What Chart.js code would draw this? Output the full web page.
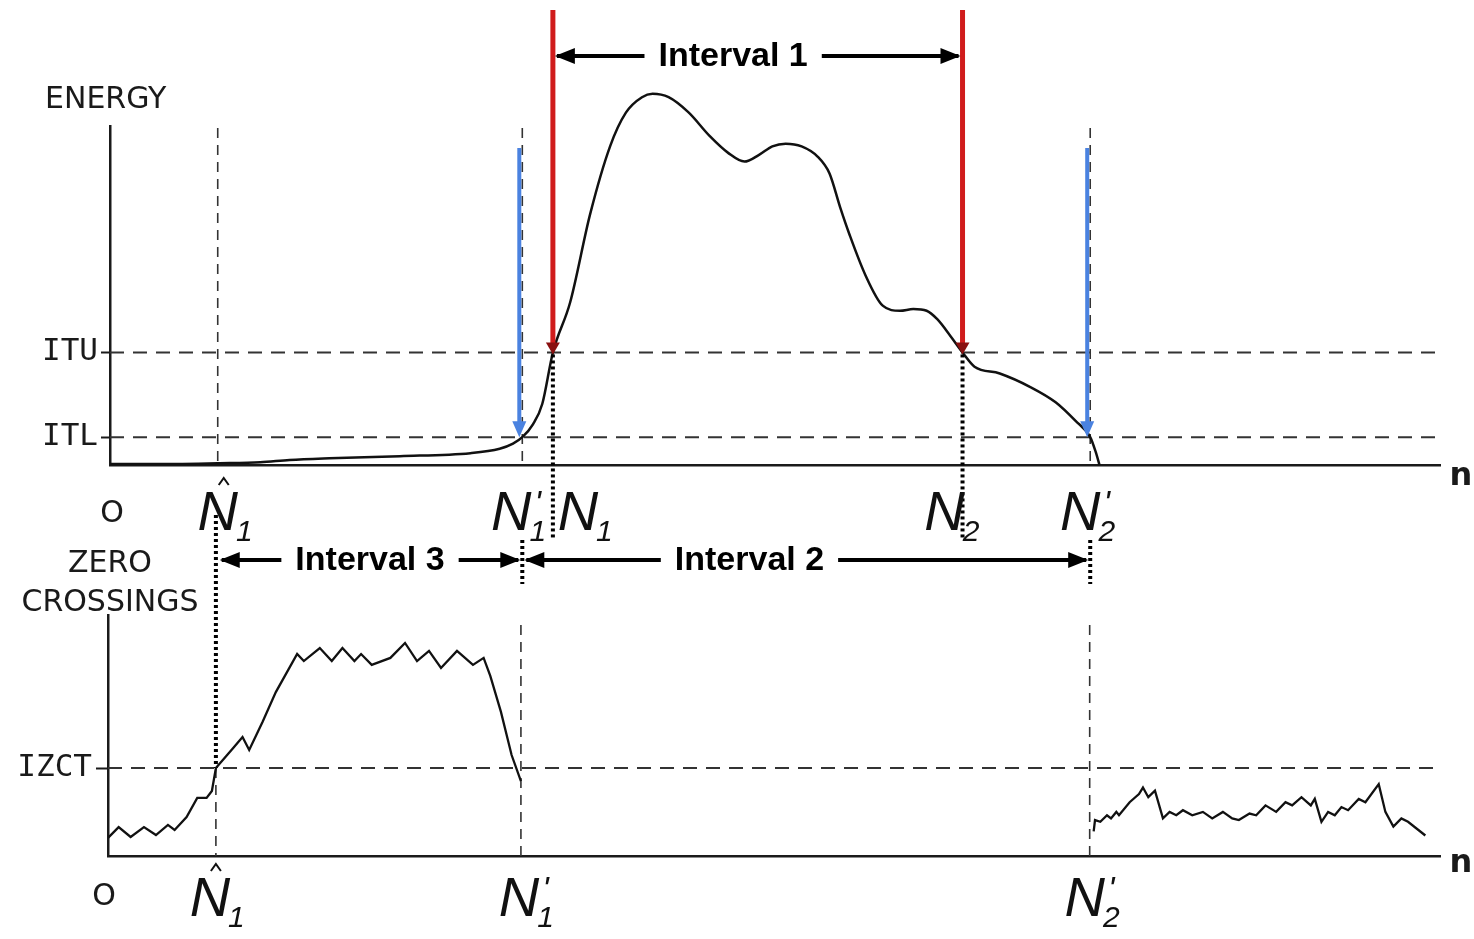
<!DOCTYPE html>
<html>
<head>
<meta charset="utf-8">
<script src="https://cdn.jsdelivr.net/npm/chart.js@4.4.0/dist/chart.umd.min.js"></script>
<style>
html, body { margin: 0; padding: 0; background: #fff; }
#wrap { position: relative; width: 1474px; height: 939px; overflow: hidden; }
#wrap canvas { position: absolute; left: 0; top: 0; }
</style>
</head>
<body>
<div id="wrap">
  <canvas id="zc" width="1474" height="939"></canvas>
  <canvas id="energy" width="1474" height="939"></canvas>
</div>
<script>
// frame index n (0..100) and energy
const energyN = [0, 5, 8.1, 11.3, 13.5, 16.5, 21.8, 27.1, 29.3, 30.3, 31.0, 31.8, 32.5, 33.3, 34.6, 36.1, 37.6, 38.8, 40.0, 40.8,
  42.0, 43.5, 45.1, 46.5, 47.7, 48.8, 49.8, 50.8, 52.0, 53.2, 54.1, 54.9, 55.6, 56.8, 58.1, 59.4, 60.4, 61.4, 62.2, 63.2,
  64.1, 65.0, 66.9, 69.2, 71.1, 72.6, 73.7, 74.1, 74.4];
const energyV = [0.3, 0.3, 0.5, 0.8, 1.5, 2.0, 2.6, 3.5, 4.8, 6.3, 8.2, 12, 18, 33.2, 48, 74, 94, 104, 108.5, 109.5,
  108.5, 104, 97, 92, 89.5, 91.5, 94, 94.8, 94, 91, 86, 76, 68, 56, 47, 45.5, 46, 45.5, 43, 38,
  33.2, 29, 27, 23, 18.5, 13, 8.2, 4, 0];

// zero crossing rate, before N1' and after N2'
const zcLeftN = [0, 0.8, 1.7, 2.7, 3.6, 4.5, 5.0, 5.9, 6.7, 7.4, 7.8, 8.1, 9.4, 10.1, 10.6, 11.6, 12.6, 14.2, 14.7, 15.9,
  16.8, 17.6, 18.5, 19.0, 19.8, 21.2, 22.3, 23.2, 24.1, 25.0, 26.2, 27.4, 28.2, 28.7, 29.5, 30.3, 31.0];
const zcLeftV = [7.5, 12.0, 7.9, 12.0, 8.7, 12.9, 10.8, 16.2, 24.1, 24.1, 27.0, 36.5, 44.8, 49.4, 44.0, 55.6, 68.0, 83.8, 80.9, 86.3,
  80.9, 86.3, 80.9, 83.8, 79.3, 82.2, 88.4, 80.9, 85.1, 78.0, 85.1, 79.3, 82.2, 74.7, 59.8, 41.9, 31.1];
const zcRightN = [74.0, 74.1, 74.5, 75.0, 75.3, 75.7, 75.9, 76.7, 77.4, 77.7, 78.1, 78.6, 79.2, 79.7, 80.2, 80.7, 81.4, 82.2, 82.9, 83.7,
  84.4, 84.9, 85.7, 86.2, 86.9, 87.7, 88.4, 88.9, 89.6, 90.3, 90.6, 91.1, 91.6, 92.1, 92.6, 93.1, 93.9, 94.4, 95.4, 95.9,
  96.5, 97.1, 97.6, 98.9];
const zcRightV = [10.2, 14.9, 14.2, 16.9, 15.6, 18.3, 16.9, 22.3, 25.7, 28.4, 24.4, 27.1, 15.6, 18.3, 16.9, 19.0, 16.9, 18.3, 15.6, 18.3,
  15.6, 14.9, 17.6, 16.9, 21.0, 18.3, 22.3, 21.0, 24.4, 21.0, 23.7, 14.2, 18.3, 16.9, 20.3, 19.0, 23.7, 22.3, 29.8, 18.3,
  12.2, 15.6, 14.2, 8.5];

// thresholds (tick labels on the value axes)
const thrNames = ['ITL', 'ITU'];
const thrValues = [8.2, 33.2];
const zcThrNames = ['IZCT'];
const zcThrValues = [36.5];

// marked frames on the n axis: N^1, N1', N1, N2, N2'
const markN = [8.1, 31.0, 33.3, 64.1, 73.7];
const markSub = ['1', '1', '1', '2', '2'];
const markAccent = ['hat', 'prime', '', '', 'prime'];
const markShiftTop = [0, -11, 25, -18, -10];
const zcMarks = [0, 1, 4];
const markShiftZc = [-6, -2, 0, 0, -5];

const intervals = [
  { label: 'Interval 1', from: 2, to: 3, y: 56, frac: 0.44 },
  { label: 'Interval 3', from: 0, to: 1, y: 560, frac: 0.5 },
  { label: 'Interval 2', from: 1, to: 4, y: 560, frac: 0.40 }
];

const INK = '#1a1a1a';
const RED = '#d01c1c';
const BLUE = '#4a82e0';

function seg(ctx, x1, y1, x2, y2, w, color, dash) {
  ctx.save();
  ctx.beginPath();
  ctx.setLineDash(dash || []);
  ctx.lineWidth = w;
  ctx.strokeStyle = color;
  ctx.moveTo(x1, y1);
  ctx.lineTo(x2, y2);
  ctx.stroke();
  ctx.restore();
}

function head(ctx, x, y, dx, dy, len, half, color) {
  const px = -dy, py = dx;
  ctx.save();
  ctx.fillStyle = color;
  ctx.beginPath();
  ctx.moveTo(x, y);
  ctx.lineTo(x - dx * len + px * half, y - dy * len + py * half);
  ctx.lineTo(x - dx * len - px * half, y - dy * len - py * half);
  ctx.closePath();
  ctx.fill();
  ctx.restore();
}

function intervalArrow(ctx, x1, x2, y, label, frac) {
  ctx.save();
  ctx.font = 'bold 34px "Liberation Sans", Arial, sans-serif';
  ctx.fillStyle = '#000';
  ctx.textAlign = 'center';
  ctx.textBaseline = 'middle';
  const w = ctx.measureText(label).width;
  const cx = x1 + (x2 - x1) * frac;
  ctx.fillText(label, cx, y + 1);
  ctx.restore();
  seg(ctx, x1 + 4, y, cx - w / 2 - 14, y, 4, '#000');
  seg(ctx, cx + w / 2 + 14, y, x2 - 4, y, 4, '#000');
  head(ctx, x1 + 2, y, -1, 0, 20, 8, '#000');
  head(ctx, x2 - 2, y, 1, 0, 20, 8, '#000');
}

function drawMark(ctx, cx, base, sub, accent) {
  ctx.save();
  ctx.fillStyle = '#111';
  ctx.textBaseline = 'alphabetic';
  ctx.font = 'italic 56px "Liberation Sans", Arial, sans-serif';
  ctx.textAlign = 'center';
  ctx.fillText('N', cx, base);
  const w = ctx.measureText('N').width;
  ctx.textAlign = 'left';
  ctx.font = 'italic 30px "Liberation Sans", Arial, sans-serif';
  ctx.fillText(sub, cx + w / 2 - 2, base + 11);
  if (accent === 'prime') {
    ctx.font = 'italic 34px "Liberation Sans", Arial, sans-serif';
    ctx.fillText("'", cx + w / 2 + 3, base - 16);
  }
  ctx.restore();
  if (accent === 'hat') {
    ctx.save();
    ctx.strokeStyle = '#111';
    ctx.lineWidth = 2;
    ctx.beginPath();
    ctx.moveTo(cx + 1, base - 45);
    ctx.lineTo(cx + 6, base - 52);
    ctx.lineTo(cx + 11, base - 45);
    ctx.stroke();
    ctx.restore();
  }
}

function label(ctx, text, x, y, font, align) {
  ctx.save();
  ctx.fillStyle = INK;
  ctx.font = font;
  ctx.textAlign = align || 'center';
  ctx.textBaseline = 'alphabetic';
  ctx.fillText(text, x, y);
  ctx.restore();
}

const energyDeco = {
  id: 'energyDeco',
  beforeDatasetsDraw(chart) {
    const { ctx, chartArea: a, scales: { x, y } } = chart;
    thrValues.forEach(v => {
      const py = y.getPixelForValue(v);
      seg(ctx, a.left, py, 1435, py, 2, '#333', [14, 9]);
    });
    [0, 1, 4].forEach(i => {
      const px = x.getPixelForValue(markN[i]);
      seg(ctx, px, a.top + 2, px, a.bottom, 1.6, '#333', [10, 7]);
    });
  },
  afterDraw(chart) {
    const { ctx, chartArea: a, scales: { x, y } } = chart;
    const itu = y.getPixelForValue(thrValues[1]);
    const itl = y.getPixelForValue(thrValues[0]);

    label(ctx, 'ENERGY', 45, 108, '30px "DejaVu Sans", sans-serif', 'left');
    label(ctx, 'O', 112, 522, '30px "DejaVu Sans", sans-serif');
    label(ctx, 'n', 1461, 485, 'bold 32px "DejaVu Sans", sans-serif');

    // red end-point markers at N1 and N2
    [2, 3].forEach(i => {
      const px = x.getPixelForValue(markN[i]);
      seg(ctx, px, 10, px, itu - 8, 5, RED);
      head(ctx, px, itu + 2, 0, 1, 12, 7, '#8a1010');
    });
    // blue markers at N1' and N2'
    [1, 4].forEach(i => {
      const px = x.getPixelForValue(markN[i]) - 3;
      seg(ctx, px, 148, px, itl - 12, 4, BLUE);
      head(ctx, px, itl, 0, 1, 16, 7, BLUE);
    });
    // thick dotted drops
    [2, 3].forEach(i => {
      const px = x.getPixelForValue(markN[i]);
      seg(ctx, px, itu + 2, px, 540, 4, '#000', [3, 3]);
    });
    [1, 4].forEach(i => {
      const px = x.getPixelForValue(markN[i]);
      seg(ctx, px, 540, px, 584, 4, '#000', [3, 3]);
    });

    intervals.forEach(iv => {
      intervalArrow(ctx, x.getPixelForValue(markN[iv.from]), x.getPixelForValue(markN[iv.to]), iv.y, iv.label, iv.frac);
    });

    markN.forEach((n, i) => {
      drawMark(ctx, x.getPixelForValue(n) + markShiftTop[i], 530, markSub[i], markAccent[i]);
    });
  }
};

const zcDeco = {
  id: 'zcDeco',
  beforeDatasetsDraw(chart) {
    const { ctx, chartArea: a, scales: { x, y } } = chart;
    const izct = y.getPixelForValue(zcThrValues[0]);
    seg(ctx, a.left, izct, 1440, izct, 2, '#333', [14, 9]);
    const p0 = x.getPixelForValue(markN[0]);
    seg(ctx, p0, izct, p0, a.bottom, 1.6, '#333', [10, 7]);
    seg(ctx, p0, 515, p0, izct, 4, '#000', [3, 3]);
    [1, 4].forEach(i => {
      const px = x.getPixelForValue(markN[i]);
      seg(ctx, px, 625, px, a.bottom, 1.6, '#333', [10, 7]);
    });
  },
  afterDraw(chart) {
    const { ctx, scales: { x } } = chart;
    label(ctx, 'ZERO', 110, 572, '30px "DejaVu Sans", sans-serif');
    label(ctx, 'CROSSINGS', 110, 611, '30px "DejaVu Sans", sans-serif');
    label(ctx, 'O', 104, 905, '30px "DejaVu Sans", sans-serif');
    label(ctx, 'n', 1461, 872, 'bold 32px "DejaVu Sans", sans-serif');
    zcMarks.forEach(i => {
      drawMark(ctx, x.getPixelForValue(markN[i]) + markShiftZc[i], 916, markSub[i], markAccent[i]);
    });
  }
};

Chart.defaults.font.family = '"DejaVu Sans", sans-serif';

function valueAxis(names, values, width, tickLen, pad) {
  return {
    type: 'linear',
    min: 0,
    max: 100,
    afterBuildTicks: s => { s.ticks = values.map(v => ({ value: v })); },
    afterFit: s => { s.width = width; },
    ticks: {
      callback: v => names[values.indexOf(v)],
      font: { family: '"DejaVu Sans Mono", monospace', size: 31 },
      color: INK,
      padding: pad
    },
    grid: { display: true, drawOnChartArea: false, drawTicks: true, tickLength: tickLen, color: INK, tickWidth: 2 },
    border: { display: true, color: INK, width: 2.5 }
  };
}

function nAxis(height) {
  return {
    type: 'linear',
    min: 0,
    max: 100,
    afterFit: s => { s.height = height; },
    ticks: { display: false },
    grid: { display: false },
    border: { display: true, color: INK, width: 2.5 }
  };
}

const common = {
  responsive: false,
  animation: false,
  events: [],
  plugins: { legend: { display: false }, tooltip: { enabled: false } }
};

new Chart(document.getElementById('energy').getContext('2d'), {
  type: 'line',
  data: {
    datasets: [{
      label: 'Energy',
      data: energyN.map((n, i) => ({ x: n, y: energyV[i] })),
      borderColor: '#111',
      borderWidth: 2.5,
      pointRadius: 0,
      cubicInterpolationMode: 'monotone',
      clip: false
    }]
  },
  options: Object.assign({}, common, {
    layout: { padding: { top: 126, right: 34, left: 0, bottom: 0 } },
    scales: {
      x: nAxis(474),
      y: valueAxis(thrNames, thrValues, 110, 9, 3)
    }
  }),
  plugins: [energyDeco]
});

new Chart(document.getElementById('zc').getContext('2d'), {
  type: 'line',
  data: {
    datasets: [
      {
        label: 'Zero crossings',
        data: zcLeftN.map((n, i) => ({ x: n, y: zcLeftV[i] })),
        borderColor: '#111',
        borderWidth: 2.3,
        pointRadius: 0,
        tension: 0
      },
      {
        label: 'Zero crossings (after)',
        data: zcRightN.map((n, i) => ({ x: n, y: zcRightV[i] })),
        borderColor: '#111',
        borderWidth: 2.3,
        pointRadius: 0,
        tension: 0
      }
    ]
  },
  options: Object.assign({}, common, {
    layout: { padding: { top: 615, right: 34, left: 0, bottom: 0 } },
    scales: {
      x: nAxis(83),
      y: valueAxis(zcThrNames, zcThrValues, 108, 12, 4)
    }
  }),
  plugins: [zcDeco]
});
</script>
</body>
</html>
